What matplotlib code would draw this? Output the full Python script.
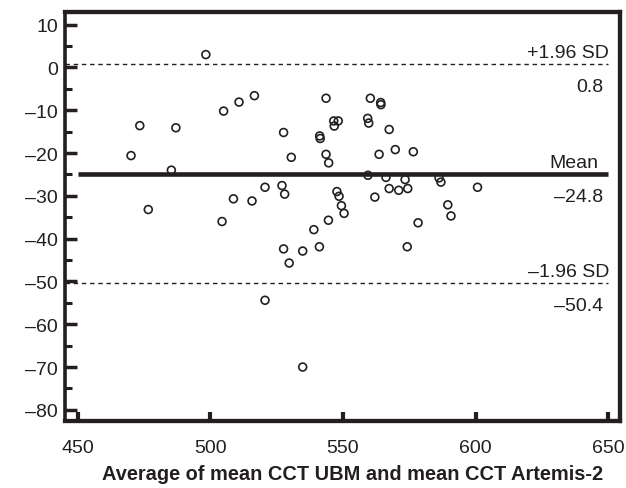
import matplotlib
matplotlib.use("Agg")
import matplotlib.pyplot as plt
from matplotlib.ticker import MultipleLocator, FuncFormatter

plt.rcParams['font.family'] = ['Liberation Sans', 'DejaVu Sans']

# Data (average CCT vs difference)
avg_cct = [498.3, 473.4, 487.0, 505.0, 510.8, 516.6, 527.6, 530.5, 470.1, 485.3,
           520.6, 527.0, 528.0, 508.7, 515.7, 476.6, 543.6, 560.3, 564.2, 564.3,
           546.5, 548.2, 546.7, 559.3, 559.7, 567.4, 541.2, 541.4, 543.6, 544.6,
           563.6, 569.7, 576.5, 559.4, 566.2, 573.4, 586.2, 586.9, 547.7, 548.5,
           549.4, 562.0, 567.4, 571.0, 574.4, 600.7, 589.5, 550.4, 544.5, 539.0,
           541.1, 534.8, 529.7, 578.3, 574.2, 590.7, 534.8, 504.4, 527.6, 520.6]
diff_cct = [3.0, -13.6, -14.1, -10.2, -8.1, -6.6, -15.2, -21.0, -20.6, -24.0,
            -28.0, -27.6, -29.6, -30.7, -31.2, -33.2, -7.2, -7.2, -8.2, -8.7,
            -12.5, -12.5, -13.7, -11.9, -13.0, -14.5, -16.0, -16.6, -20.3, -22.3,
            -20.3, -19.2, -19.7, -25.2, -25.7, -26.2, -25.8, -26.8, -29.0, -30.1,
            -32.3, -30.3, -28.3, -28.7, -28.3, -28.0, -32.1, -34.1, -35.7, -37.9,
            -41.9, -42.9, -45.7, -36.3, -41.9, -34.7, -70.0, -36.0, -42.4, -54.4]

mean_diff = -24.8
upper_loa = 0.8
lower_loa = -50.4
x_ticks = [450, 500, 550, 600, 650]
y_ticks = [10, 0, -10, -20, -30, -40, -50, -60, -70, -80]
x_label = "Average of mean CCT UBM and mean CCT Artemis-2"

ink = '#231f20'

fig = plt.figure(figsize=(6.26, 4.89), dpi=100)
ax = fig.add_axes([0.1038, 0.1377, 0.8866, 0.8351])

XL = (445.2, 654.4)
ax.set_xlim(*XL)
ax.set_ylim(-82.53, 12.88)

ax.scatter(avg_cct, diff_cct, s=32, facecolors='none', edgecolors=ink,
           linewidths=1.2, zorder=3)

ax.hlines(mean_diff, 450, 650, colors=ink, linewidth=3.3, zorder=2)
ax.hlines([upper_loa, lower_loa], XL[0], 650, colors=ink, linewidth=1.0,
          linestyles=[(0, (3.2, 2.7))], zorder=2)

fs = 14
def lab(x, y, txt, dy):
    ax.annotate(txt, (x, y), xytext=(0, dy), textcoords='offset points',
                ha='right', va='baseline', fontsize=fs, color=ink)

lab(650.2, upper_loa, "+1.96 SD", 5)
lab(648.0, upper_loa, "0.8", -19.5)
lab(646.4, mean_diff, "Mean", 5)
lab(648.2, mean_diff, "\u201324.8", -19.5)
lab(650.4, lower_loa, "\u20131.96 SD", 5)
lab(648.2, lower_loa, "\u201350.4", -19.5)

for side, s in ax.spines.items():
    s.set_linewidth(2.6 if side == 'left' else 3.1)
    s.set_color(ink)

ax.set_xticks(x_ticks)
ax.set_yticks(y_ticks)
ax.yaxis.set_minor_locator(MultipleLocator(5))
fmt = FuncFormatter(lambda v, p: ("\u2013%d" % abs(v)) if v < 0 else "%d" % v)
ax.yaxis.set_major_formatter(fmt)
ax.tick_params(axis='both', which='major', direction='in',
               color=ink, labelsize=fs, labelcolor=ink)
ax.tick_params(axis='x', which='major', length=6.7, width=3.0, pad=13.3)
ax.tick_params(axis='y', which='major', length=8.5, width=2.5, pad=5)
ax.tick_params(axis='y', which='minor', direction='in', length=4.8,
               width=2.2, color=ink)

lbl = ax.set_xlabel(x_label, fontsize=13, fontweight='bold', color=ink, labelpad=6.0)
# fit the label width to the reference (~499 px wide, centred near x=353 px)
fig.canvas.draw()
w = lbl.get_window_extent().width
lbl.set_fontsize(13 * 499.0 / w)
ax.xaxis.label.set_x((353.0 - 65.0) / 555.0)

fig.savefig("out.png", dpi=100)
